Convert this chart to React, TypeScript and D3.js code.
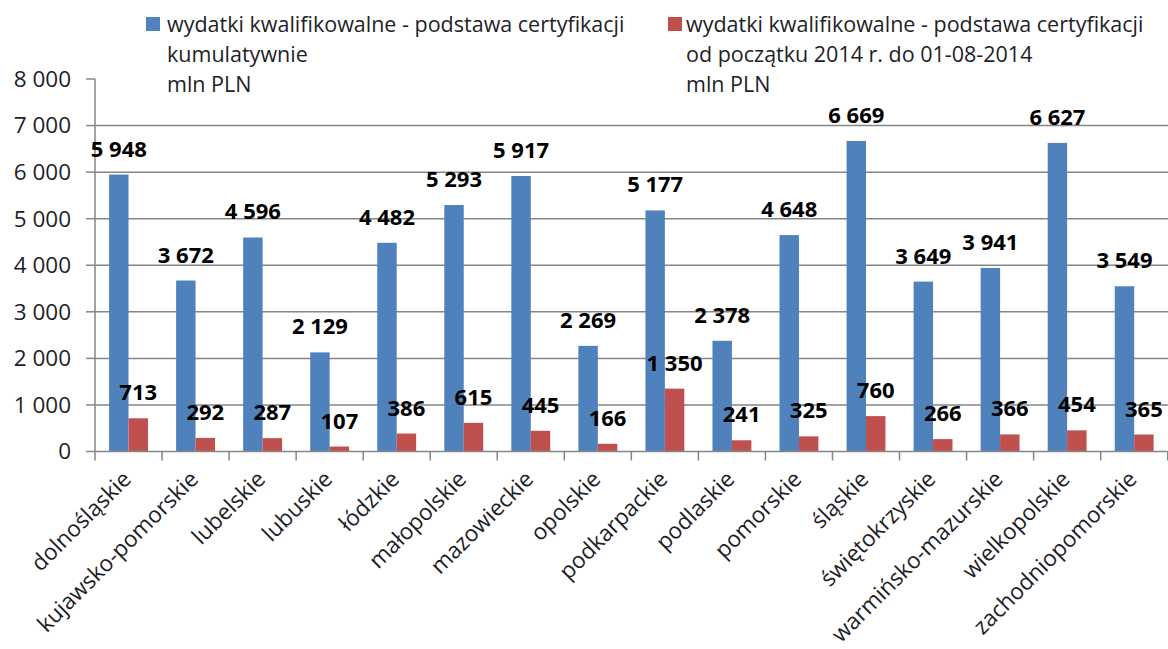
import React from "react";
import * as d3 from "d3";

const categories = [
  "dolnośląskie", "kujawsko-pomorskie", "lubelskie", "lubuskie", "łódzkie",
  "małopolskie", "mazowieckie", "opolskie", "podkarpackie", "podlaskie",
  "pomorskie", "śląskie", "świętokrzyskie", "warmińsko-mazurskie",
  "wielkopolskie", "zachodniopomorskie",
];
const cumulative = [5948, 3672, 4596, 2129, 4482, 5293, 5917, 2269, 5177, 2378, 4648, 6669, 3649, 3941, 6627, 3549];
const since2014 = [713, 292, 287, 107, 386, 615, 445, 166, 1350, 241, 325, 760, 266, 366, 454, 365];
const yTicks = [0, 1000, 2000, 3000, 4000, 5000, 6000, 7000, 8000];
const legend1 = ["wydatki kwalifikowalne - podstawa certyfikacji", "kumulatywnie", "mln PLN"];
const legend2 = ["wydatki kwalifikowalne - podstawa certyfikacji", "od początku 2014 r. do 01-08-2014", "mln PLN"];

const W = 1168, H = 649;
const left = 95, right = 1167.7, bottom = 451.5, top = 79;
const BLUE = "#4F81BD", RED = "#C0504D", GRID = "#868686", TXT = "#1e1e28";
const FONT = "'Open Sans', sans-serif";

const fmt = (v: number) => {
  const s = String(v);
  return s.length > 3 ? s.slice(0, s.length - 3) + " " + s.slice(-3) : s;
};

export default function App() {
  const x = d3.scaleBand<string>().domain(categories).range([left, right]).padding(0);
  const y = d3.scaleLinear().domain([0, 8000]).range([bottom, top]);
  const bw = x.bandwidth() * 0.29;
  const bounds = d3.range(categories.length + 1).map((i) => left + i * x.step());

  return (
    <svg width={W} height={H} style={{ position: "absolute", left: 0, top: 0, background: "#fff" }}>
      {/* gridlines */}
      {yTicks.filter((t) => t > 0 && t < 8000).map((t) => (
        <line key={"g" + t} x1={left} x2={W} y1={y(t)} y2={y(t)} stroke={GRID} strokeWidth={1.5} />
      ))}
      {/* y ticks */}
      {yTicks.map((t) => (
        <g key={"t" + t}>
          <line x1={left - 9} x2={left} y1={y(t)} y2={y(t)} stroke={GRID} strokeWidth={1.5} />
          <text x={71} y={y(t)} dy="0.35em" textAnchor="end" fontFamily={FONT} fontSize={22.5} fill={TXT}>
            {fmt(t)}
          </text>
        </g>
      ))}
      {/* bars */}
      {categories.map((c, i) => {
        const cx = (x(c) as number) + x.bandwidth() / 2;
        return (
          <g key={c}>
            <rect x={cx - bw} y={y(cumulative[i])} width={bw} height={bottom - y(cumulative[i])} fill={BLUE} />
            <rect x={cx} y={y(since2014[i])} width={bw} height={bottom - y(since2014[i])} fill={RED} />
          </g>
        );
      })}
      {/* axes */}
      <line x1={left} x2={left} y1={top} y2={bottom} stroke={GRID} strokeWidth={1.5} />
      <line x1={left} x2={right} y1={bottom} y2={bottom} stroke={GRID} strokeWidth={1.5} />
      {bounds.map((b, i) => (
        <line key={"xt" + i} x1={b} x2={b} y1={bottom} y2={bottom + 9} stroke={GRID} strokeWidth={1.5} />
      ))}
      {/* labels */}
      {categories.map((c, i) => {
        const cx = (x(c) as number) + x.bandwidth() / 2;
        return (
          <g key={"l" + c} fontFamily={FONT} fontSize={22} fontWeight="bold" fill="#000" textAnchor="middle">
            <text x={cx - bw / 2} y={y(cumulative[i]) - 18}>{fmt(cumulative[i])}</text>
            <text x={cx + bw / 2} y={y(since2014[i]) - 18}>{fmt(since2014[i])}</text>
          </g>
        );
      })}
      {/* x labels */}
      {categories.map((c) => {
        const cx = (x(c) as number) + x.bandwidth() / 2;
        return (
          <text key={"x" + c} transform={`translate(${cx + 4},${bottom + 29}) rotate(-45)`}
            textAnchor="end" fontFamily={FONT} fontSize={22.5} fill={TXT}>
            {c}
          </text>
        );
      })}
      {/* legend */}
      <rect x={146} y={17} width={14} height={14} fill={BLUE} />
      {legend1.map((t, i) => (
        <text key={"a" + i} x={167} y={32 + i * 30} fontFamily={FONT} fontSize={21.5} fill={TXT}>{t}</text>
      ))}
      <rect x={668} y={17} width={14} height={14} fill={RED} />
      {legend2.map((t, i) => (
        <text key={"b" + i} x={686} y={32 + i * 30} fontFamily={FONT} fontSize={21.5} fill={TXT}>{t}</text>
      ))}
    </svg>
  );
}
